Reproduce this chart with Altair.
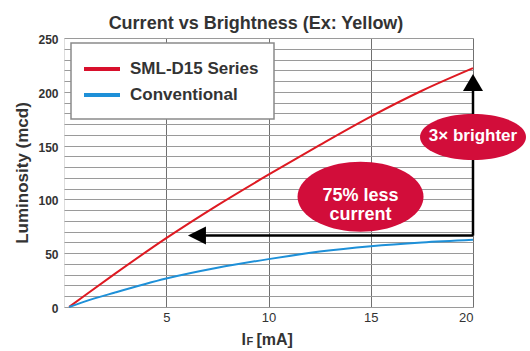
import math
import altair as alt
import pandas as pd

# ---- data ----
series_names = ["SML-D15 Series", "Conventional"]
series_colors = ["#DE1A22", "#1E90D8"]
legend_colors = ["#D8102C", "#1E90D8"]

current_red = [0.25, 1, 2.5, 5, 7.5, 10, 12.5, 15, 17.5, 20]
lum_red = [0, 10.5, 31, 64, 94.5, 123, 150.5, 177, 201, 222]
current_blue = [0.25, 1, 2.5, 5, 7.5, 10, 12.5, 15, 17.5, 20]
lum_blue = [0, 5, 13.5, 26.5, 36.5, 44.5, 51.5, 56.5, 60, 62.5]

x_ticks = [5, 10, 15, 20]
y_grid = list(range(0, 251, 10))

chart_title = "Current vs Brightness (Ex: Yellow)"
y_title = "Luminosity (mcd)"
x_title_parts = ["I", "F", "[mA]"]

# annotations (data coordinates)
h_arrow_x = [6.9]
h_arrow_x2 = [20]
h_arrow_y = [66.4]
h_head_x = [6.5]
v_arrow_y2 = [201]
v_head_y = [208.6]
bubble_text = ["3× brighter", "75% less\ncurrent"]
bubble_x = [20, 14.5]
bubble_y = [158, 102.5]
bubble_text_y = [158.5, 103.5]
bubble_color = "#D20D3A"

FONT = "Liberation Sans"
TXT = "#333333"


def ellipse_path(ratio, n=72):
    pts = []
    for i in range(n):
        t = 2 * math.pi * i / n
        pts.append(f"{math.cos(t):.4f},{ratio * math.sin(t):.4f}")
    return "M" + " L".join(pts) + " Z"


lines_df = pd.DataFrame({
    "current": current_red + current_blue,
    "lum": lum_red + lum_blue,
    "series": [series_names[0]] * len(current_red) + [series_names[1]] * len(current_blue),
})

xscale = alt.Scale(domain=[0, 20], nice=False, zero=False)
yscale = alt.Scale(domain=[0, 250], nice=False)

X_AX = alt.Axis(
    values=x_ticks, grid=True, gridColor="#707070", gridWidth=1,
    ticks=False, tickSize=0, domain=False, title=None,
    labelFontSize=13, labelColor=TXT, labelFont=FONT, labelPadding=4)
Y_AX = alt.Axis(
    values=y_grid, grid=True, gridColor="#9a9a9a", gridWidth=1,
    ticks=False, tickSize=0, domain=False,
    labelExpr="datum.value % 50 == 0 ? datum.label : ''", labelOverlap=False,
    labelFontSize=12, labelFontWeight="bold", labelColor=TXT, labelFont=FONT,
    labelPadding=6, labelOffset=1.5,
    title=y_title, titleFontSize=17, titleFontWeight="bold",
    titleColor=TXT, titleFont=FONT, titleX=-42, titleY=134.5, titleAngle=270,
    titleAlign="center", titleBaseline="middle")


def X(field):
    return alt.X(field, scale=xscale, axis=X_AX)


def Y(field):
    return alt.Y(field, scale=yscale, axis=Y_AX)


lines = alt.Chart(lines_df).mark_line(strokeWidth=2, interpolate="monotone").encode(
    x=X("current:Q"), y=Y("lum:Q"),
    color=alt.Color("series:N", scale=alt.Scale(domain=series_names, range=series_colors),
                    legend=None),
)

arrow_df = pd.DataFrame({"x": h_arrow_x, "x2": h_arrow_x2, "y": h_arrow_y,
                         "hx": h_head_x, "vy2": v_arrow_y2, "vhy": v_head_y})

h_line = alt.Chart(arrow_df).mark_rule(color="black", strokeWidth=2.5).encode(
    x=X("x:Q"), x2="x2:Q", y=Y("y:Q"))
v_line = alt.Chart(arrow_df).mark_rule(color="black", strokeWidth=2.5).encode(
    x=X("x2:Q"), y=Y("y:Q"), y2="vy2:Q")
h_head = alt.Chart(arrow_df).mark_point(
    shape="M-1,0 L1,-1 L1,1 Z", filled=True, color="black", opacity=1,
    size=324, strokeWidth=0).encode(x=X("hx:Q"), y=Y("y:Q"))
v_head = alt.Chart(arrow_df).mark_point(
    shape="M0,-0.85 L1,0.85 L-1,0.85 Z", filled=True, color="black", opacity=1,
    size=400, strokeWidth=0).encode(x=X("x2:Q"), y=Y("vhy:Q"))

b1_df = pd.DataFrame({"x": [bubble_x[0]], "y": [bubble_y[0]], "ty": [bubble_text_y[0]], "t": [bubble_text[0]]})
b2_df = pd.DataFrame({"x": [bubble_x[1]], "y": [bubble_y[1]], "ty": [bubble_text_y[1]], "t": [bubble_text[1]]})

ell1 = alt.Chart(b1_df).mark_point(
    shape=ellipse_path(0.435), filled=True, color=bubble_color, opacity=1,
    size=106 * 106, strokeWidth=0).encode(x=X("x:Q"), y=Y("y:Q"))
ell2 = alt.Chart(b2_df).mark_point(
    shape=ellipse_path(0.555), filled=True, color=bubble_color, opacity=1,
    size=126 * 126, strokeWidth=0).encode(x=X("x:Q"), y=Y("y:Q"))
txt1 = alt.Chart(b1_df).mark_text(
    color="white", fontWeight="bold", fontSize=17, font=FONT, baseline="middle").encode(
    x=X("x:Q"), y=Y("ty:Q"), text="t:N")
txt2 = alt.Chart(b2_df).mark_text(
    color="white", fontWeight="bold", fontSize=18, font=FONT, baseline="middle",
    lineBreak="\n", lineHeight=19).encode(x=X("x:Q"), y=Y("ty:Q"), text="t:N")


def label(text, x, y, size, align="left", baseline="alphabetic", color=TXT):
    return alt.Chart(pd.DataFrame({"t": [text]})).mark_text(
        fontSize=size, fontWeight="bold", font=FONT, color=color, align=align,
        baseline=baseline).encode(x=alt.value(x), y=alt.value(y), text="t:N")


# x-axis title "I_F [mA]" with subscript
xt_i = label(x_title_parts[0], 177.5, 307, 16)
xt_f = label(x_title_parts[1], 182.5, 307, 11)
xt_ma = label(x_title_parts[2], 192.5, 307, 16)

# chart title
title_mark = label(chart_title, 192, -9, 18, align="center")

# legend box (drawn by hand)
leg_box = alt.Chart(pd.DataFrame({"t": [""]})).mark_rect(
    fill="white", stroke="#8a8a8a", strokeWidth=1.5).encode(
    x=alt.value(7), x2=alt.value(210), y=alt.value(5), y2=alt.value(81))
leg_layers = [leg_box]
for i, (name, col) in enumerate(zip(series_names, legend_colors)):
    yy = 31 + 26 * i
    leg_layers.append(alt.Chart(pd.DataFrame({"t": [name]})).mark_rule(
        color=col, strokeWidth=4).encode(
        x=alt.value(20), x2=alt.value(56), y=alt.value(yy)))
    leg_layers.append(label(name, 66, yy, 17, baseline="middle"))

chart = alt.layer(
    lines, h_line, v_line, h_head, v_head, ell1, ell2, txt1, txt2,
    xt_i, xt_f, xt_ma, title_mark, *leg_layers
).properties(
    width=409, height=269,
    autosize=alt.AutoSizeParams(type="none"),
    padding={"left": 64, "top": 38, "right": 57, "bottom": 44},
).configure_view(stroke="#707070", strokeWidth=1).configure(background="white")

chart.save("out.html", embed_options={"renderer": "svg", "actions": False})
